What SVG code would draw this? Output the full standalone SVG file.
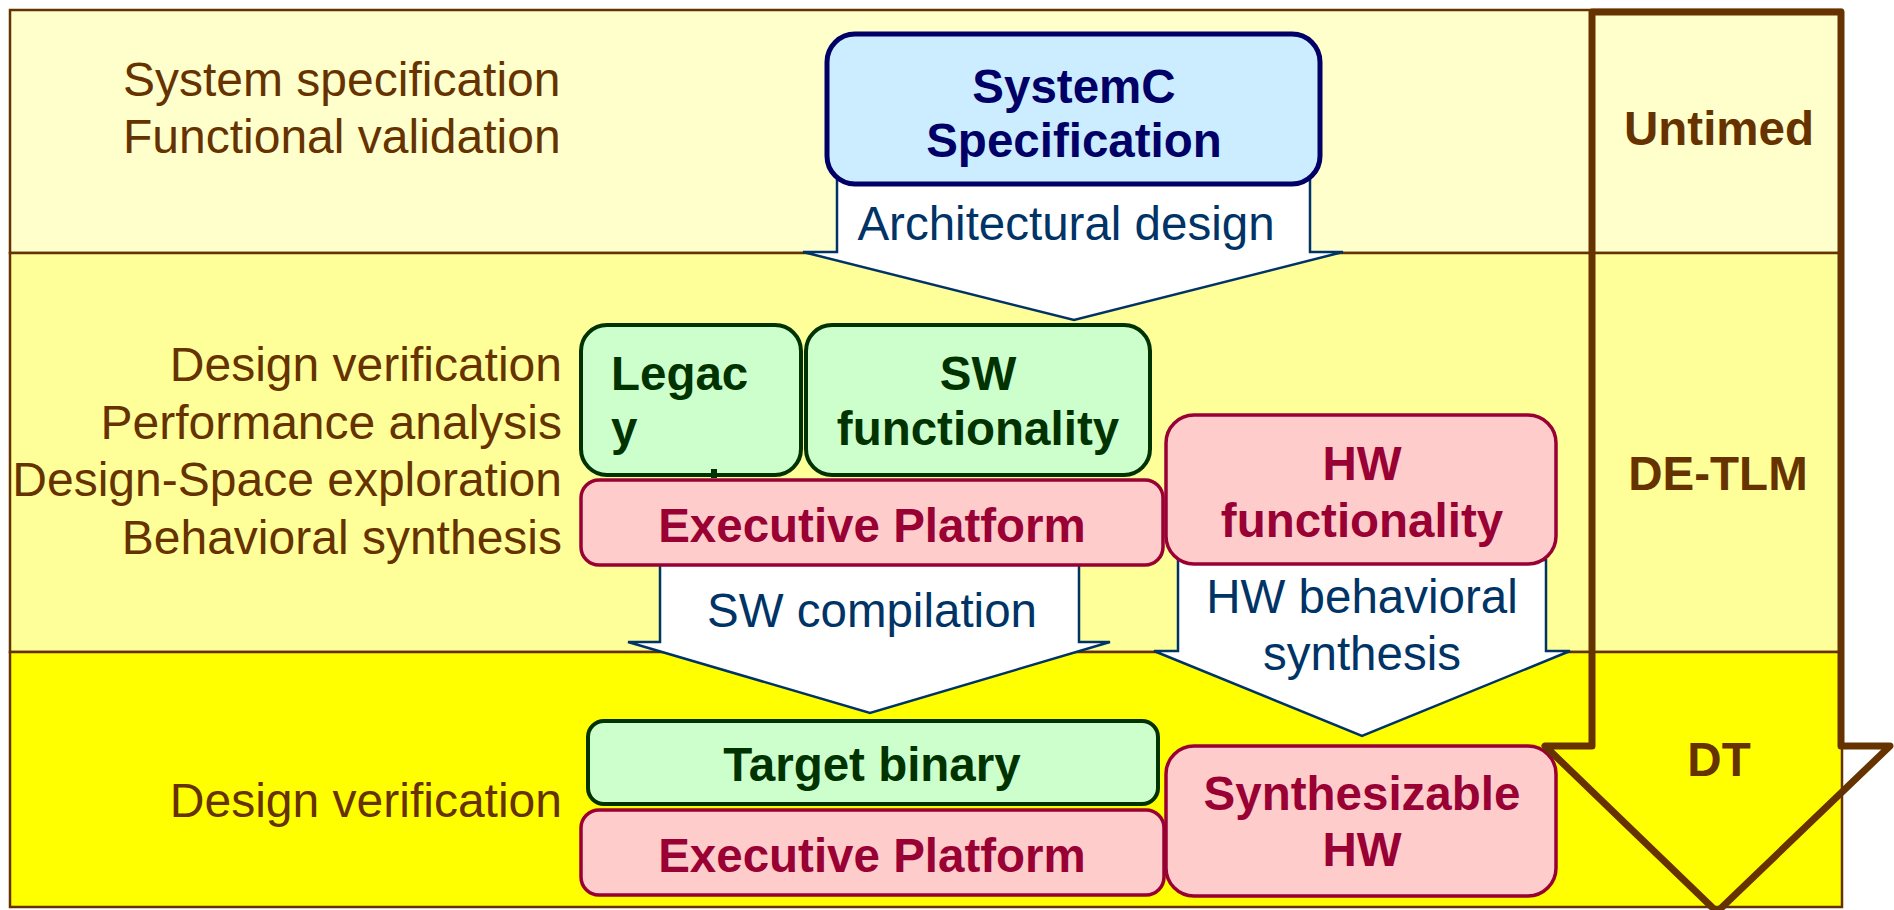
<svg xmlns="http://www.w3.org/2000/svg" width="1894" height="910" viewBox="0 0 1894 910">
  <style>
    text { font-family: "Liberation Sans", Arial, sans-serif; font-size: 47.5px; }
    .band { stroke: #663300; stroke-width: 2.5; }
    .phase { fill: #663300; font-size: 48px; }
    .level { fill: #663300; font-weight: bold; text-anchor: middle; }
    .spec { fill: #CCECFF; stroke: #000066; stroke-width: 5; }
    .spec-t { fill: #000066; font-weight: bold; text-anchor: middle; }
    .sw { fill: #CCFFCC; stroke: #003300; stroke-width: 4; }
    .sw-t { fill: #003300; font-weight: bold; }
    .hw { fill: #FFCCCC; stroke: #990033; stroke-width: 3.5; }
    .hw-t { fill: #990033; font-weight: bold; text-anchor: middle; }
    .step { fill: #FFFFFF; stroke: #003366; stroke-width: 2.5; stroke-linejoin: miter; }
    .step-t { fill: #003366; text-anchor: middle; }
    .flow { fill: none; stroke: #663300; stroke-width: 7; stroke-linejoin: round; }
  </style>

  <!-- abstraction-level bands -->
  <g id="bands">
    <rect class="band" x="10" y="10" width="1832" height="243" fill="#FFFFCC"/>
    <rect class="band" x="10" y="253" width="1832" height="399" fill="#FFFF99"/>
    <rect class="band" x="10" y="652" width="1832" height="255" fill="#FFFF00"/>
  </g>

  <!-- activities per level -->
  <g id="activities">
    <text class="phase" x="123" y="96">System specification</text>
    <text class="phase" x="123" y="153">Functional validation</text>
    <text class="phase" x="562" y="381" text-anchor="end">Design verification</text>
    <text class="phase" x="562" y="439" text-anchor="end">Performance analysis</text>
    <text class="phase" x="562" y="496" text-anchor="end">Design-Space exploration</text>
    <text class="phase" x="562" y="554" text-anchor="end">Behavioral synthesis</text>
    <text class="phase" x="562" y="817" text-anchor="end">Design verification</text>
  </g>

  <!-- refinement steps -->
  <g id="connectors">
    <polygon id="arch-design" class="step" points="837,170 1310,170 1310,252 1343,252 1074,320 803,252 837,252"/>
    <text class="step-t" x="1066" y="240">Architectural design</text>
    <polygon id="sw-compilation" class="step" points="660,560 1079,560 1079,642 1110,642 870,713 628,642 660,642"/>
    <text class="step-t" x="872" y="627">SW compilation</text>
    <polygon id="hw-synthesis" class="step" points="1178,560 1546,560 1546,651 1570,651 1362,736 1154,651 1178,651"/>
    <text class="step-t" x="1362" y="613">HW behavioral</text>
    <text class="step-t" x="1362" y="670">synthesis</text>
  </g>

  <g id="systemc-spec">
    <rect class="spec" x="827" y="34" width="493" height="150" rx="28"/>
    <text class="spec-t" x="1074" y="103">SystemC</text>
    <text class="spec-t" x="1074" y="157">Specification</text>
  </g>

  <g id="legacy">
    <rect class="sw" x="581" y="325" width="220" height="150" rx="26"/>
    <text class="sw-t" x="611" y="390">Legac</text>
    <text class="sw-t" x="611" y="445">y</text>
    <rect x="711" y="469" width="6" height="9" fill="#003300"/>
  </g>

  <g id="sw-functionality">
    <rect class="sw" x="806" y="325" width="344" height="150" rx="26"/>
    <text class="sw-t" x="978" y="390" text-anchor="middle">SW</text>
    <text class="sw-t" x="978" y="445" text-anchor="middle">functionality</text>
  </g>

  <g id="exec-platform-tlm">
    <rect class="hw" x="581" y="480" width="582" height="85" rx="18"/>
    <text class="hw-t" x="872" y="542">Executive Platform</text>
  </g>

  <g id="hw-functionality">
    <rect class="hw" x="1166" y="415" width="390" height="149" rx="28"/>
    <text class="hw-t" x="1362" y="480">HW</text>
    <text class="hw-t" x="1362" y="537">functionality</text>
  </g>

  <g id="target-binary">
    <rect class="sw" x="588" y="721" width="570" height="83" rx="16"/>
    <text class="sw-t" x="872" y="781" text-anchor="middle">Target binary</text>
  </g>

  <g id="exec-platform-dt">
    <rect class="hw" x="581" y="810" width="583" height="85" rx="18"/>
    <text class="hw-t" x="872" y="872">Executive Platform</text>
  </g>

  <g id="synthesizable-hw">
    <rect class="hw" x="1166" y="746" width="390" height="150" rx="28"/>
    <text class="hw-t" x="1362" y="810">Synthesizable</text>
    <text class="hw-t" x="1362" y="866">HW</text>
  </g>

  <!-- timing-refinement arrow with level names -->
  <g id="timing-flow">
    <path class="flow" d="M1592,12 L1841,12 L1841,746 L1890,746 L1717,912 L1545,746 L1592,746 Z"/>
    <text class="level" x="1719" y="145">Untimed</text>
    <text class="level" x="1718" y="490">DE-TLM</text>
    <text class="level" x="1719" y="776">DT</text>
  </g>
</svg>
